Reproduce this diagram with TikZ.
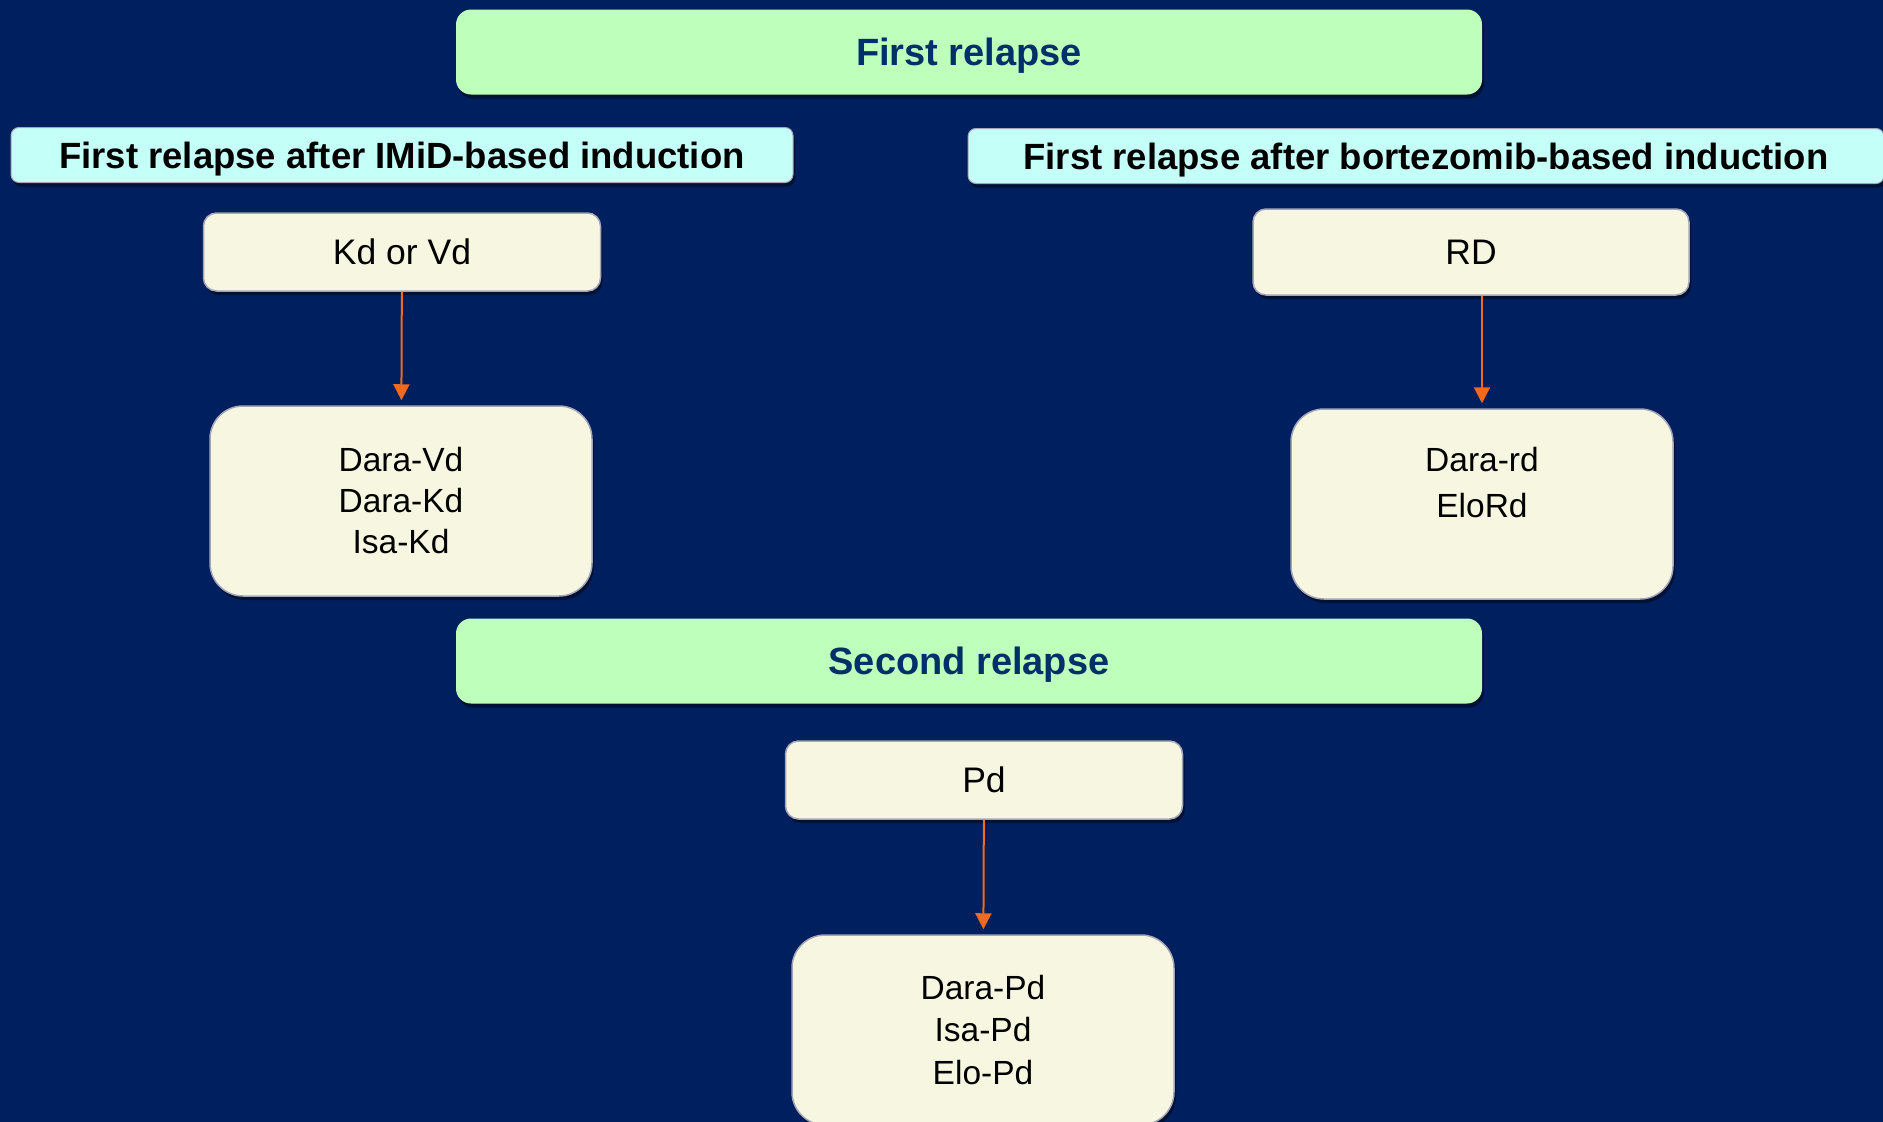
\documentclass[tikz,border=0pt]{standalone}
\usepackage{fontspec}
\setmainfont{Liberation Sans}
\usetikzlibrary{arrows.meta,shadows}

\definecolor{navy}{RGB}{0,31,94}
\definecolor{bannerfill}{RGB}{190,255,188}
\definecolor{bannertext}{RGB}{0,48,104}
\definecolor{headerfill}{RGB}{196,255,248}
\definecolor{cream}{RGB}{247,247,225}
\definecolor{edgegray}{RGB}{165,165,185}
\definecolor{flow}{RGB}{242,106,30}

\begin{document}
\begin{tikzpicture}[x=1pt, y=-1pt,
    shade/.style={drop shadow={shadow xshift=2pt, shadow yshift=-4pt, opacity=0.45, fill=black}},
    banner/.style={shade, fill=bannerfill, rounded corners=15pt, minimum width=1026pt, minimum height=85pt,
        text depth=0pt, text=bannertext, font=\fontsize{38}{44}\selectfont\bfseries},
    header/.style={shade, fill=headerfill, draw=edgegray, line width=1pt, rounded corners=8pt, minimum height=55pt,
        text depth=0pt, font=\fontsize{36.5}{42}\selectfont\bfseries},
    regimen/.style={shade, fill=cream, draw=edgegray, line width=1.5pt, rounded corners=13pt,
        minimum width=397pt, minimum height=78pt, font=\fontsize{35.5}{42}\selectfont},
    options/.style={shade, fill=cream, draw=edgegray, line width=1.5pt, rounded corners=33pt, align=center,
        minimum width=382pt, minimum height=190pt, font=\fontsize{33.5}{41}\selectfont},
    flowarrow/.style={draw=flow, line width=2pt, -{Triangle[width=16pt,length=16pt]}, shorten >=5pt}]

    % background
    \fill[navy] (0,0) rectangle (1883,1122);
    \useasboundingbox (0,0) rectangle (1883,1122);

    % first relapse
    \node[banner] (first) at (969,52) {First relapse};
    \node[header, minimum width=782pt] (imid) at (402,155) {First relapse after IMiD-based induction};
    \node[header, minimum width=916pt] (bort) at (1426,156) {First relapse after bortezomib-based induction};

    % left branch
    \node[regimen] (kdvd) at (402,252) {Kd or Vd};
    \node[options] (daral) at (401,501) {Dara-Vd\\Dara-Kd\\Isa-Kd};
    \draw[flowarrow] (kdvd) -- (daral);

    % right branch
    \node[regimen, minimum width=436pt, minimum height=86pt] (rd) at (1471,252) {RD};
    \node[options] (darar) at (1482,504) {};
    \node[font=\fontsize{33.5}{41}\selectfont, align=center] (darart) at (1482,503) {Dara-rd\\[5pt]EloRd\\\phantom{E}};
    \draw[flowarrow] (rd.south -| darar.north) -- (darar.north);

    % second relapse
    \node[banner] (second) at (969,661) {Second relapse};
    \node[regimen] (pd) at (984,780) {Pd};
    \node[options, font=\fontsize{33.5}{42.5}\selectfont] (darap) at (983,1030) {Dara-Pd\\Isa-Pd\\Elo-Pd};
    \draw[flowarrow] (pd) -- (darap);
\end{tikzpicture}
\end{document}
